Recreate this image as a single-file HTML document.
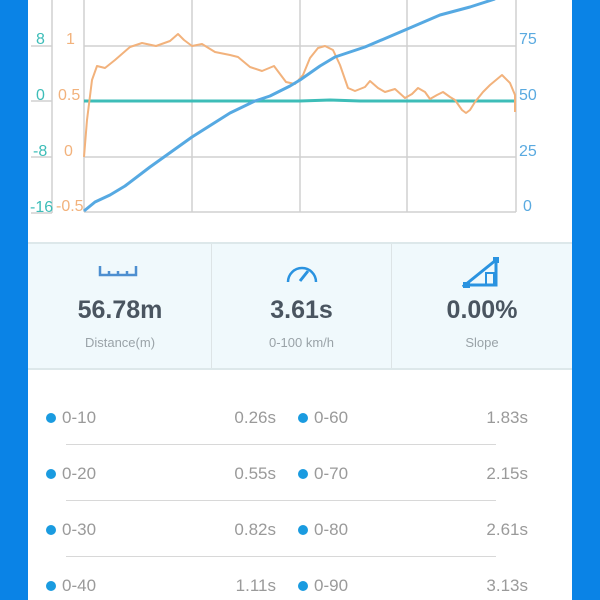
<!DOCTYPE html>
<html><head><meta charset="utf-8"><style>
body{margin:0;width:600px;height:600px;overflow:hidden;background:#fff;font-family:"Liberation Sans",Arial,sans-serif;position:relative}
.bl{position:absolute;top:0;bottom:0;background:#0a83e6}
.stat{position:absolute;top:242px;height:124px;background:#f0f9fc;border-top:2px solid #dde8ea;border-bottom:2px solid #dde8ea;left:28px;width:544px}
.cell{position:absolute;top:0;height:124px;text-align:center}
.big{position:absolute;top:52px;width:100%;font-size:25px;font-weight:bold;color:#4a5560}
.sm{position:absolute;top:91px;width:100%;font-size:13px;color:#9aa3a8}
.row{position:absolute;font-size:17px;color:#9a9a9a}
.dot{position:absolute;width:10px;height:10px;border-radius:5px;background:#1a9be0}
.sep{position:absolute;height:1px;background:#d8d8d8;left:66px;width:430px}
</style></head><body>
<div class="bl" style="left:0;width:28px"></div>
<div class="bl" style="left:572px;width:28px"></div>
<svg width="600" height="240" style="position:absolute;left:0;top:0" font-family="Liberation Sans, Arial, sans-serif" font-size="16">
<g stroke="#d0d0d0" stroke-width="1.5" fill="none">
<line x1="84" y1="46" x2="516" y2="46"/><line x1="84" y1="157" x2="516" y2="157"/><line x1="84" y1="212" x2="516" y2="212"/>
<line x1="84" y1="0" x2="84" y2="212"/><line x1="192" y1="0" x2="192" y2="212"/><line x1="300" y1="0" x2="300" y2="212"/><line x1="407" y1="0" x2="407" y2="212"/><line x1="516" y1="0" x2="516" y2="212"/>
<line x1="52" y1="0" x2="52" y2="213"/>
<line x1="31" y1="46" x2="52" y2="46"/><line x1="31" y1="101" x2="52" y2="101"/><line x1="31" y1="157" x2="52" y2="157"/><line x1="31" y1="213" x2="52" y2="213"/>
</g>
<g fill="#3dbdb8"><text x="36" y="44">8</text><text x="36" y="100">0</text><text x="33" y="156">-8</text><text x="30" y="212">-16</text></g>
<g fill="#f2b27c"><text x="66" y="44">1</text><text x="58" y="100">0.5</text><text x="64" y="156">0</text><text x="56" y="211">-0.5</text></g>
<g fill="#5aaae0"><text x="519" y="44">75</text><text x="519" y="100">50</text><text x="519" y="156">25</text><text x="523" y="211">0</text></g>
<polyline fill="none" stroke="#3dbdb8" stroke-width="3" points="84,101 300,101 330,100 360,101 516,101"/>
<polyline fill="none" stroke="#f2b27c" stroke-width="2" stroke-linejoin="round" points="84,157 87,120 92,80 97,66 105,68 115,60 130,47 142,43 156,46 170,41 178,34 184,40 192,46 202,44 215,52 230,55 238,57 250,67 262,71 274,66 286,82 295,84 303,75 310,58 318,48 325,46 333,50 340,65 348,88 355,91 365,87 370,81 378,88 385,92 395,89 405,98 412,94 418,88 425,92 430,99 437,95 443,92 450,97 455,100 462,110 466,113 470,110 475,102 483,92 490,85 502,75 510,83 515,95 515,112"/>
<polyline fill="none" stroke="#56a9e2" stroke-width="3" stroke-linejoin="round" points="84,211 95,202 110,195 125,186 150,167 192,137 230,113 255,101 270,96 290,86 300,80 320,66 335,57 365,47 405,30 440,15 470,7 495,-1"/>
</svg>
<div class="stat">
<div class="cell" style="left:0;width:184px">
<svg width="40" height="14" style="position:absolute;left:70px;top:20px"><path d="M2,2 V11 H38 V2 M11,7V11 M20,7V11 M29,7V11" stroke="#4d8fd0" stroke-width="2.5" fill="none"/></svg>
<div class="big">56.78m</div><div class="sm">Distance(m)</div></div>
<div style="position:absolute;left:183px;top:0;width:1px;height:124px;background:#dde4e6"></div>
<div class="cell" style="left:184px;width:179px">
<svg width="36" height="26" style="position:absolute;left:72px;top:16px"><path d="M4,22 A14,14 0 1 1 32,22" stroke="#2a93e0" stroke-width="2.5" fill="none"/><line x1="16" y1="21" x2="24" y2="11" stroke="#2a93e0" stroke-width="3"/></svg>
<div class="big">3.61s</div><div class="sm">0-100 km/h</div></div>
<div style="position:absolute;left:363px;top:0;width:1px;height:124px;background:#dde4e6"></div>
<div class="cell" style="left:364px;width:180px">
<svg width="40" height="34" style="position:absolute;left:70px;top:12px"><path d="M3,29 L34,4 V29 Z" stroke="#2a93e0" stroke-width="3" fill="none"/><rect x="24" y="17" width="8" height="12" stroke="#2a93e0" stroke-width="2" fill="none"/><rect x="1" y="26" width="7" height="6" fill="#2a93e0"/><rect x="31" y="1" width="6" height="6" fill="#2a93e0"/></svg>
<div class="big">0.00%</div><div class="sm">Slope</div></div>
</div>
<div class="dot" style="left:46px;top:413px"></div><div class="row" style="left:62px;top:408px">0-10</div><div class="row" style="left:200px;width:76px;text-align:right;top:408px">0.26s</div>
<div class="dot" style="left:298px;top:413px"></div><div class="row" style="left:314px;top:408px">0-60</div><div class="row" style="left:450px;width:78px;text-align:right;top:408px">1.83s</div>
<div class="sep" style="top:444px"></div>
<div class="dot" style="left:46px;top:469px"></div><div class="row" style="left:62px;top:464px">0-20</div><div class="row" style="left:200px;width:76px;text-align:right;top:464px">0.55s</div>
<div class="dot" style="left:298px;top:469px"></div><div class="row" style="left:314px;top:464px">0-70</div><div class="row" style="left:450px;width:78px;text-align:right;top:464px">2.15s</div>
<div class="sep" style="top:500px"></div>
<div class="dot" style="left:46px;top:525px"></div><div class="row" style="left:62px;top:520px">0-30</div><div class="row" style="left:200px;width:76px;text-align:right;top:520px">0.82s</div>
<div class="dot" style="left:298px;top:525px"></div><div class="row" style="left:314px;top:520px">0-80</div><div class="row" style="left:450px;width:78px;text-align:right;top:520px">2.61s</div>
<div class="sep" style="top:556px"></div>
<div class="dot" style="left:46px;top:581px"></div><div class="row" style="left:62px;top:576px">0-40</div><div class="row" style="left:200px;width:76px;text-align:right;top:576px">1.11s</div>
<div class="dot" style="left:298px;top:581px"></div><div class="row" style="left:314px;top:576px">0-90</div><div class="row" style="left:450px;width:78px;text-align:right;top:576px">3.13s</div>
</body></html>
